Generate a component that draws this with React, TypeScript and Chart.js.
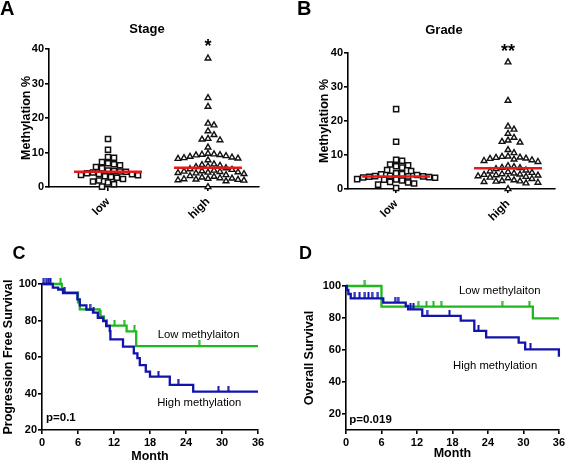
import React, { useEffect, useRef } from 'react';
import { Chart, registerables } from 'chart.js';
Chart.register(...registerables);

const FONT = 'Arial, "Liberation Sans", Helvetica, sans-serif';

// ---------- Panels A / B : methylation % by group ----------
const GROUPS = ['low', 'high'];
const METH_TICKS = [0, 10, 20, 30, 40];

const STAGE_LOW = [13.9, 10.8, 8.7, 8.5, 7.2, 6.9, 6.6, 6.3, 5.8, 5.4, 4.8, 4.6, 4.5, 4.4, 4.2, 4.0, 3.8, 3.7, 3.5, 3.4, 3.1, 2.9, 2.7, 2.3, 1.9, 1.6, 1.3, 0.8, 0.1];
const STAGE_HIGH = [37.3, 25.8, 23.3, 18.4, 17.9, 16.2, 15.1, 14.0, 13.8, 13.6, 11.5, 9.7, 9.5, 9.4, 9.3, 9.2, 9.0, 8.8, 8.6, 8.4, 8.3, 8.2, 7.8, 6.6, 6.4, 6.2, 6.0, 5.8, 5.5, 5.2, 5.0, 4.8, 4.6, 4.5, 4.4, 4.3, 4.2, 4.1, 4.0, 3.8, 3.5, 3.2, 3.0, 2.8, 2.6, 2.5, 2.4, 2.3, 2.2, 2.1, 2.0, 1.9, 1.7, 0];
const STAGE_MEDIANS = [4.4, 5.6];
const STAGE_STARS = '*';

const GRADE_LOW = [23.5, 13.9, 8.6, 8.3, 7.2, 7.0, 6.7, 6.3, 5.6, 5.3, 4.6, 4.4, 4.3, 4.1, 3.9, 3.8, 3.7, 3.7, 3.6, 3.5, 3.4, 3.3, 2.9, 2.8, 2.7, 2.5, 2.1, 1.9, 1.6, 1.3, 0.3];
const GRADE_HIGH = [37.3, 26.0, 18.4, 17.5, 16.3, 15.1, 14.3, 13.9, 13.7, 11.5, 10.6, 9.6, 9.5, 9.3, 9.2, 9.0, 8.9, 8.7, 8.5, 8.3, 8.0, 6.8, 6.5, 6.3, 6.2, 5.9, 5.5, 5.2, 5.0, 4.8, 4.6, 4.4, 4.3, 4.2, 4.1, 4.0, 3.8, 3.6, 3.4, 3.2, 3.0, 2.6, 2.4, 2.3, 2.2, 2.1, 1.9, 1.7, 0];
const GRADE_MEDIANS = [3.7, 6.1];
const GRADE_STARS = '**';

// ---------- Panel C : progression free survival ----------
const MONTH_TICKS = [0, 6, 12, 18, 24, 30, 36];
const PFS_TICKS = [20, 40, 60, 80, 100];
const PFS_HIGH_T = [1.8, 2.7, 3.5, 5.9, 6.3, 7.4, 8.5, 9.3, 10.2, 10.7, 11.3, 11.4, 13.5, 15.3, 15.9, 16.3, 17.3, 18.0, 21.3, 25.2];
const PFS_HIGH_S = [98.0, 97.0, 95.0, 91.6, 88.3, 86.0, 84.3, 81.5, 79.7, 77.0, 74.2, 69.7, 65.7, 62.0, 59.4, 55.6, 52.0, 49.2, 44.7, 41.0];
const PFS_HIGH_CENS = [0.3, 0.7, 1.1, 1.4, 3.8, 8.0, 8.6, 19.4, 22.7, 29.4, 31.05];
const PFS_LOW_T = [3.3, 3.6, 6.0, 6.3, 9.6, 10.3, 10.8, 14.1, 15.7];
const PFS_LOW_S = [97.5, 95.4, 90.0, 86.1, 82.3, 80.0, 77.2, 74.0, 66.0];
const PFS_LOW_CENS = [3.1, 9.8, 12.1, 13.7, 15.4, 26.2];

// ---------- Panel D : overall survival ----------
const OS_TICKS = [20, 40, 60, 80, 100];
const OS_HIGH_T = [0.15, 0.4, 0.8, 6.3, 10.1, 10.5, 12.9, 19.4, 21.7, 23.7, 29.2, 30.3, 36];
const OS_HIGH_S = [97.5, 95.0, 92.3, 89.6, 87.5, 85.4, 81.3, 78.3, 71.9, 67.9, 64.6, 60.4, 55.8];
const OS_HIGH_CENS = [1.5, 2.3, 3.2, 3.8, 4.4, 5.4, 8.3, 8.8, 10.9, 11.4, 13.7, 17.5, 22.4, 31.2];
const OS_LOW_T = [6.0, 31.6];
const OS_LOW_S = [87.1, 79.8];
const OS_LOW_CENS = [3.2, 12.2, 13.6, 14.8, 16.1, 26.4, 31.0];

const GREEN = '#1fb81f';
const BLUE = '#1212ad';
const RED = '#e81818';

const tickFont = { family: FONT, size: 11, weight: 'bold' as const };

function swarm(values: number[], cat: number, pxX: number, pxY: number) {
  const step = 3;
  const minD = 6;
  const placed: { dx: number; py: number }[] = [];
  const sorted = [...values].sort((a, b) => b - a);
  return sorted.map((v) => {
    const py = v * pxY;
    let dx = 0;
    for (let i = 0; i < 400; i++) {
      dx = i === 0 ? 0 : (i % 2 ? 1 : -1) * Math.ceil(i / 2) * step;
      if (placed.every((p) => (p.dx - dx) ** 2 + (p.py - py) ** 2 >= minD * minD)) break;
    }
    placed.push({ dx, py });
    return { x: cat + dx / pxX, y: v };
  });
}

function kmLine(times: number[], surv: number[]) {
  const pts = [{ x: 0, y: 100 }];
  times.forEach((t, i) => pts.push({ x: t, y: surv[i] }));
  pts.push({ x: 36, y: surv[surv.length - 1] });
  return pts;
}
function survAt(times: number[], surv: number[], t: number) {
  let s = 100;
  times.forEach((tt, i) => {
    if (tt <= t) s = surv[i];
  });
  return s;
}
function censorPts(times: number[], surv: number[], cens: number[]) {
  return cens.map((t) => ({ x: t, y: survAt(times, surv, t) }));
}
function tickMark(color: string) {
  const c = document.createElement('canvas');
  c.width = 3;
  c.height = 12;
  const g = c.getContext('2d')!;
  g.fillStyle = color;
  g.fillRect(0.5, 0, 2, 6);
  return c;
}

type Ann = { text: string; x: number; y: number; font: string; align?: CanvasTextAlign; data?: boolean };
function annotate(items: Ann[]) {
  return {
    id: 'annotate',
    afterDraw(chart: any) {
      const ctx = chart.ctx as CanvasRenderingContext2D;
      ctx.save();
      ctx.fillStyle = '#000';
      ctx.textBaseline = 'alphabetic';
      for (const a of items) {
        const x = a.data ? chart.scales.x.getPixelForValue(a.x) : a.x;
        const y = a.data ? chart.scales.y.getPixelForValue(a.y) : a.y;
        ctx.font = a.font;
        ctx.textAlign = a.align || 'left';
        ctx.fillText(a.text, x, y);
      }
      ctx.restore();
    },
  };
}

const gridOpts = { drawOnChartArea: false, drawTicks: true, tickLength: 4, color: '#000', lineWidth: 1.6 };
const borderOpts = { display: true, color: '#000', width: 1.6 };

type MethOpts = {
  low: number[]; high: number[]; medians: number[]; stars: string;
  pxX: number; pxY: number; xMin: number; xMax: number;
  padTop: number; padRight: number; yWidth: number; xHeight: number; yTitlePad: number;
  title: string; titleX: number; titleY: number; letter: string; letterX: number; starY: number;
};
function methConfig(o: MethOpts): any {
  const half = 34 / o.pxX;
  return {
    type: 'scatter',
    data: {
      datasets: [
        { data: [{ x: 1 - half, y: o.medians[0] }, { x: 1 + half, y: o.medians[0] }], showLine: true, borderColor: RED, borderWidth: 2.5, pointRadius: 0, clip: false },
        { data: [{ x: 2 - half, y: o.medians[1] }, { x: 2 + half, y: o.medians[1] }], showLine: true, borderColor: RED, borderWidth: 2.5, pointRadius: 0, clip: false },
        { data: swarm(o.low, 1, o.pxX, o.pxY), pointStyle: 'rect', pointRadius: 3.6, pointBorderWidth: 1.5, pointBorderColor: '#111', pointBackgroundColor: '#fff', clip: false },
        { data: swarm(o.high, 2, o.pxX, o.pxY), pointStyle: 'triangle', pointRadius: 3.3, pointBorderWidth: 1.4, pointBorderColor: '#111', pointBackgroundColor: '#fff', clip: false },
      ],
    },
    options: {
      animation: false,
      responsive: false,
      events: [],
      layout: { padding: { left: 0, top: o.padTop, right: o.padRight, bottom: 0 } },
      plugins: { legend: { display: false }, tooltip: { enabled: false }, title: { display: false } },
      scales: {
        x: {
          type: 'linear', min: o.xMin, max: o.xMax,
          afterBuildTicks: (s: any) => { s.ticks = GROUPS.map((_, i) => ({ value: i + 1 })); },
          afterFit: (s: any) => { s.height = o.xHeight; },
          ticks: { callback: (v: number) => GROUPS[Math.round(v) - 1], minRotation: 45, maxRotation: 45, font: { family: FONT, size: 11.5, weight: 'bold' }, color: '#000', padding: 4 },
          grid: gridOpts, border: borderOpts,
        },
        y: {
          min: METH_TICKS[0], max: METH_TICKS[METH_TICKS.length - 1],
          afterBuildTicks: (s: any) => { s.ticks = METH_TICKS.map((v) => ({ value: v })); },
          afterFit: (s: any) => { s.width = o.yWidth; },
          ticks: { font: tickFont, color: '#000', padding: 1 },
          grid: gridOpts, border: borderOpts,
          title: { display: true, text: 'Methylation %', color: '#000', font: { family: FONT, size: 12.5, weight: 'bold' }, padding: { top: o.yTitlePad, bottom: 0 } },
        },
      },
    },
    plugins: [
      annotate([
        { text: o.letter, x: o.letterX, y: 15, font: `bold 20px ${FONT}` },
        { text: o.title, x: o.titleX, y: o.titleY, font: `bold 13px ${FONT}`, align: 'center' },
        { text: o.stars, x: 2, y: o.starY, font: `bold 18px ${FONT}`, align: 'center', data: true },
      ]),
    ],
  };
}

type KmOpts = {
  highT: number[]; highS: number[]; highC: number[];
  lowT: number[]; lowS: number[]; lowC: number[];
  yMin: number; yTicks: number[]; yTitle: string;
  padTop: number; padRight: number; yWidth: number; xHeight: number; yTitlePad: number; xTitlePad: number;
  letter: string; letterX: number;
  lowLabel: [number, number]; highLabel: [number, number]; pText: string; pPos: [number, number];
};
function kmConfig(o: KmOpts): any {
  return {
    type: 'line',
    data: {
      datasets: [
        { data: censorPts(o.highT, o.highS, o.highC), showLine: false, pointStyle: tickMark(BLUE), pointRadius: 3, clip: false },
        { data: kmLine(o.highT, o.highS), stepped: true, borderColor: BLUE, borderWidth: 2.3, pointRadius: 0, fill: false, clip: false },
        { data: censorPts(o.lowT, o.lowS, o.lowC), showLine: false, pointStyle: tickMark(GREEN), pointRadius: 3, clip: false },
        { data: kmLine(o.lowT, o.lowS), stepped: true, borderColor: GREEN, borderWidth: 2.3, pointRadius: 0, fill: false, clip: false },
      ],
    },
    options: {
      animation: false,
      responsive: false,
      events: [],
      layout: { padding: { left: 0, top: o.padTop, right: o.padRight, bottom: 0 } },
      plugins: { legend: { display: false }, tooltip: { enabled: false }, title: { display: false } },
      scales: {
        x: {
          type: 'linear', min: MONTH_TICKS[0], max: MONTH_TICKS[MONTH_TICKS.length - 1],
          afterBuildTicks: (s: any) => { s.ticks = MONTH_TICKS.map((v) => ({ value: v })); },
          afterFit: (s: any) => { s.height = o.xHeight; },
          ticks: { font: tickFont, color: '#000', padding: 2, maxRotation: 0 },
          grid: gridOpts, border: borderOpts,
          title: { display: true, text: 'Month', color: '#000', font: { family: FONT, size: 12.5, weight: 'bold' }, padding: { top: 0, bottom: o.xTitlePad } },
        },
        y: {
          type: 'linear', min: o.yMin, max: 100,
          afterBuildTicks: (s: any) => { s.ticks = o.yTicks.map((v) => ({ value: v })); },
          afterFit: (s: any) => { s.width = o.yWidth; },
          ticks: { font: tickFont, color: '#000', padding: 1 },
          grid: gridOpts, border: borderOpts,
          title: { display: true, text: o.yTitle, color: '#000', font: { family: FONT, size: 12.5, weight: 'bold' }, padding: { top: o.yTitlePad, bottom: 0 } },
        },
      },
    },
    plugins: [
      annotate([
        { text: o.letter, x: o.letterX, y: 29, font: `bold 18px ${FONT}` },
        { text: 'Low methylaiton', x: o.lowLabel[0], y: o.lowLabel[1], font: `11.3px ${FONT}`, data: true },
        { text: 'High methylation', x: o.highLabel[0], y: o.highLabel[1], font: `11.3px ${FONT}`, data: true },
        { text: o.pText, x: o.pPos[0], y: o.pPos[1], font: `bold 11.5px ${FONT}`, data: true },
      ]),
    ],
  };
}

function ChartBox({ left, top, width, height, make }: { left: number; top: number; width: number; height: number; make: () => any }) {
  const ref = useRef<HTMLCanvasElement>(null);
  useEffect(() => {
    const chart = new Chart(ref.current!, make());
    return () => chart.destroy();
  }, []);
  return <canvas ref={ref} width={width} height={height} style={{ position: 'absolute', left, top, width, height }} />;
}

export default function App() {
  return (
    <div style={{ position: 'absolute', left: 0, top: 0, width: 567, height: 461, overflow: 'hidden', background: '#fff' }}>
      <ChartBox left={0} top={0} width={280} height={230} make={() => methConfig({
        low: STAGE_LOW, high: STAGE_HIGH, medians: STAGE_MEDIANS, stars: STAGE_STARS,
        pxX: 100, pxY: 3.45, xMin: 0.41, xMax: 2.51,
        padTop: 49, padRight: 21, yWidth: 49, xHeight: 43, yTitlePad: 19,
        title: 'Stage', titleX: 147, titleY: 33, letter: 'A', letterX: 0, starY: 39.1,
      })} />
      <ChartBox left={280} top={0} width={287} height={230} make={() => methConfig({
        low: GRADE_LOW, high: GRADE_HIGH, medians: GRADE_MEDIANS, stars: GRADE_STARS,
        pxX: 112, pxY: 3.4, xMin: 0.57, xMax: 2.42,
        padTop: 53, padRight: 12, yWidth: 68, xHeight: 41, yTitlePad: 37,
        title: 'Grade', titleX: 164, titleY: 34, letter: 'B', letterX: 17, starY: 38.7,
      })} />
      <ChartBox left={0} top={230} width={280} height={240} make={() => kmConfig({
        highT: PFS_HIGH_T, highS: PFS_HIGH_S, highC: PFS_HIGH_CENS,
        lowT: PFS_LOW_T, lowS: PFS_LOW_S, lowC: PFS_LOW_CENS,
        yMin: 20, yTicks: PFS_TICKS, yTitle: 'Progression Free Survival',
        padTop: 54, padRight: 22, yWidth: 42, xHeight: 40, yTitlePad: 0.6, xTitlePad: 5.8,
        letter: 'C', letterX: 12.5,
        lowLabel: [19.3, 70.2], highLabel: [19.2, 33.2], pText: 'p=0.1', pPos: [0.67, 25.1],
      })} />
      <ChartBox left={280} top={230} width={287} height={240} make={() => kmConfig({
        highT: OS_HIGH_T, highS: OS_HIGH_S, highC: OS_HIGH_CENS,
        lowT: OS_LOW_T, lowS: OS_LOW_S, lowC: OS_LOW_CENS,
        yMin: 10, yTicks: OS_TICKS, yTitle: 'Overall Survival',
        padTop: 56, padRight: 7, yWidth: 66, xHeight: 40, yTitlePad: 22.5, xTitlePad: 8.5,
        letter: 'D', letterX: 19,
        lowLabel: [19.1, 95], highLabel: [18.1, 47.9], pText: 'p=0.019', pPos: [0.55, 14.6],
      })} />
    </div>
  );
}
